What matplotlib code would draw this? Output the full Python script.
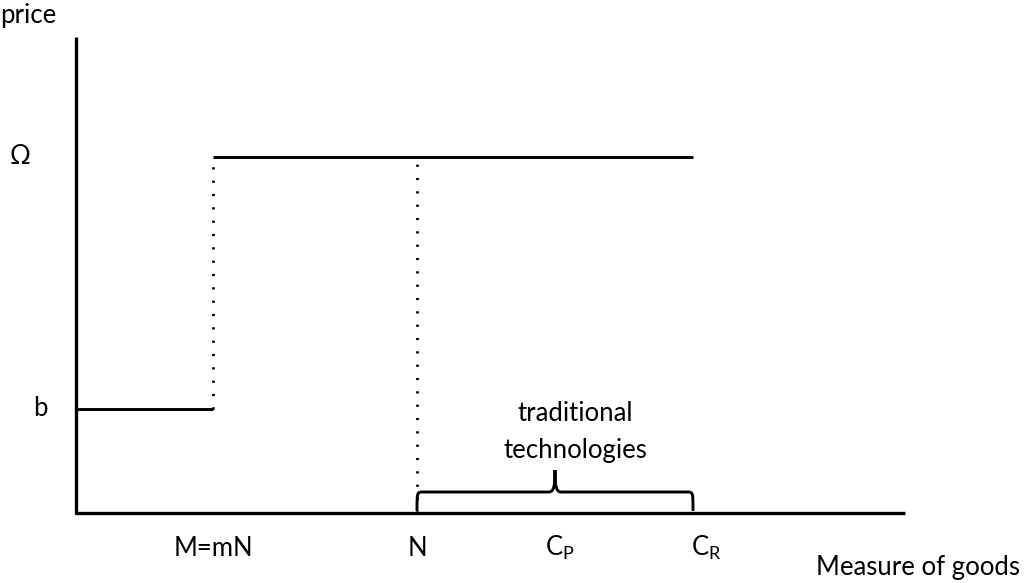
import matplotlib
matplotlib.use("Agg")
import matplotlib.pyplot as plt
from matplotlib.path import Path
from matplotlib.patches import PathPatch

plt.rcParams['font.family'] = ['Lato', 'DejaVu Sans']
plt.rcParams['mathtext.fontset'] = 'custom'
plt.rcParams['mathtext.rm'] = 'Lato'

# Key positions (data units; origin at the corner of the axes)
x_M = 137
x_N = 341
x_CP = 484
x_CR = 617
x_end = 829
y_b = 104
y_Omega = 356
y_top = 476

x_tick_labels = ['M=mN', 'N', r'C$_\mathregular{P}$', r'C$_\mathregular{R}$']
x_tick_pos = [x_M, x_N, x_CP, x_CR + 13]
y_tick_labels = ['b', 'Ω']
y_tick_pos = [y_b, y_Omega]

fig = plt.figure(figsize=(10.28, 5.83), dpi=100)
ax = fig.add_axes([0, 0, 1, 1])
ax.set_xlim(-76, 1028 - 76)
ax.set_ylim(513 - 583, 513)
ax.axis('off')

# axes
ax.plot([0, 0], [-1, y_top], color='black', lw=2.4, solid_capstyle='butt')
ax.plot([-1, x_end], [0, 0], color='black', lw=2.4, solid_capstyle='butt')

# lower step segment and upper segment
ax.plot([0, x_M], [y_b, y_b], color='black', lw=2.1, solid_capstyle='butt')
ax.plot([x_M, x_CR], [y_Omega, y_Omega], color='black', lw=2.1, solid_capstyle='butt')

# dotted verticals
ax.plot([x_M, x_M], [y_b, y_Omega], color='black', lw=2.0, linestyle=(0, (0.8, 4.0)))
ax.plot([x_N, x_N], [0, y_Omega], color='black', lw=2.0, linestyle=(0, (0.8, 4.0)))

# curly brace between N and C_R
def brace(x0, x1, y0, h, tip):
    xm = (x0 + x1) / 2
    r = 6
    verts = [
        (x0, y0), (x0, y0 + h), (x0, y0 + h), (x0 + r, y0 + h),
        (xm - r, y0 + h), (xm, y0 + h), (xm, y0 + h + tip / 2), (xm, y0 + h + tip),
        (xm, y0 + h + tip / 2), (xm, y0 + h), (xm + r, y0 + h),
        (x1 - r, y0 + h), (x1, y0 + h), (x1, y0 + h), (x1, y0),
    ]
    codes = [Path.MOVETO, Path.CURVE4, Path.CURVE4, Path.CURVE4,
             Path.LINETO, Path.CURVE4, Path.CURVE4, Path.CURVE4,
             Path.CURVE4, Path.CURVE4, Path.CURVE4,
             Path.LINETO, Path.CURVE4, Path.CURVE4, Path.CURVE4]
    return Path(verts, codes)

ax.add_patch(PathPatch(brace(x_N, x_CR, 2, 19, 22), fill=False, lw=2.1, edgecolor='black'))

fs = 18.5
ax.text(-76, 498, 'price', fontsize=fs, ha='left', va='center')
for lab, yv, xv in zip(y_tick_labels, y_tick_pos, [-36, -56]):
    ax.text(xv, yv, lab, fontsize=fs, ha='center', va='center')
for lab, xv in zip(x_tick_labels, x_tick_pos):
    ax.text(xv, -35, lab, fontsize=fs, ha='center', va='center')
ax.text(944, -55, 'Measure of goods', fontsize=fs, ha='right', va='center')
ax.text(499, 81, 'traditional\ntechnologies', fontsize=fs, ha='center', va='center',
        linespacing=1.6)

fig.savefig('out.png', dpi=100)
